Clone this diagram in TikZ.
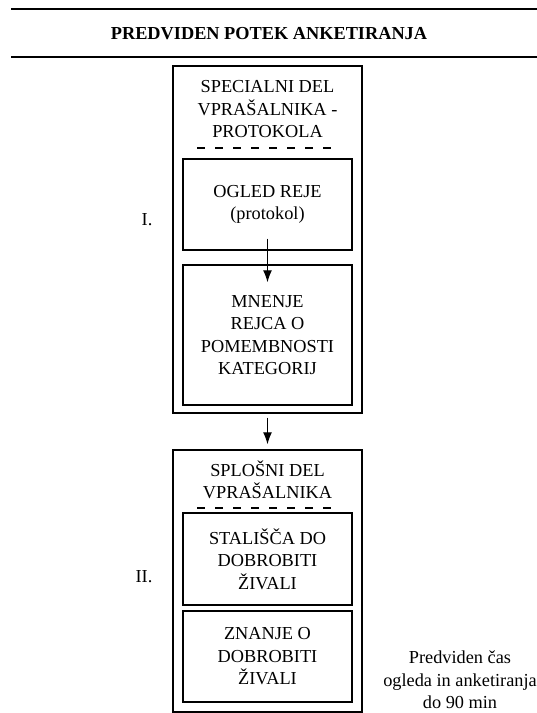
\documentclass[tikz,border=0pt]{standalone}
\usepackage{fontspec}
\setmainfont{Liberation Serif}
\usetikzlibrary{arrows.meta}
\begin{document}
\begin{tikzpicture}[x=1pt,y=-1pt,
  txt/.style={font=\fontsize{18.3}{22.5}\selectfont, align=center, inner sep=0pt},
  outerbox/.style={draw, line width=1.4pt, inner sep=0pt},
  innerbox/.style={draw, line width=1.4pt, inner sep=0pt, minimum width=169pt,
     font=\fontsize{18.3}{22.5}\selectfont, align=center},
  rule/.style={line width=1.4pt},
  sep/.style={line width=1.2pt, dash pattern=on 8pt off 10pt},
  arr/.style={line width=1.2pt, -{Latex[length=12pt,width=9pt]}}]
\useasboundingbox (0,0) rectangle (537,713);
\fill[white] (0,0) rectangle (537,713);
% title rules
\coordinate (r1a) at (11,9);  \coordinate (r1b) at (537,9);
\coordinate (r2a) at (11,57); \coordinate (r2b) at (537,57);
\draw[rule] (r1a) -- (r1b);
\draw[rule] (r2a) -- (r2b);
\node[txt, font=\fontsize{18.3}{22}\selectfont\bfseries] (title) at (269,34) {PREDVIDEN POTEK ANKETIRANJA};
% outer boxes
\node[outerbox, minimum width=189pt, minimum height=347pt] (o1) at (267.5,239.5) {};
\node[outerbox, minimum width=189pt, minimum height=262pt] (o2) at (267.5,581) {};
% headers
\node[txt] (h1) at (267.5,109.5) {SPECIALNI DEL\\VPRAŠALNIKA -\\PROTOKOLA};
\node[txt] (h2) at (267.5,480) {SPLOŠNI DEL\\VPRAŠALNIKA};
\coordinate (d1a) at (197,148); \coordinate (d1b) at (340,148);
\coordinate (d2a) at (197,508); \coordinate (d2b) at (340,508);
\draw[sep] (d1a) -- (d1b);
\draw[sep] (d2a) -- (d2b);
% inner boxes
\node[innerbox, minimum height=91pt] (ogled) at (267.5,204.5) {OGLED REJE\\(protokol)};
\node[innerbox, minimum height=140pt] (mnenje) at (267.5,335) {MNENJE\\REJCA O\\POMEMBNOSTI\\KATEGORIJ};
\node[innerbox, minimum height=92pt] (stal) at (267.5,559) {STALIŠČA DO\\DOBROBITI\\ŽIVALI};
\node[innerbox, minimum height=91pt] (znanje) at (267.5,656.5) {ZNANJE O\\DOBROBITI\\ŽIVALI};
% arrows
\draw[arr, shorten <=-12pt, shorten >=-18pt] (ogled.south) -- (mnenje.north);
\draw[arr, shorten <=4pt, shorten >=5pt] (o1.south) -- (o2.north);
% labels
\node[txt] (l1) at (147,220) {I.};
\node[txt] (l2) at (144,577) {II.};
\node[txt] (note) at (460,680) {Predviden čas\\ogleda in anketiranja\\do 90 min};
\end{tikzpicture}
\end{document}
